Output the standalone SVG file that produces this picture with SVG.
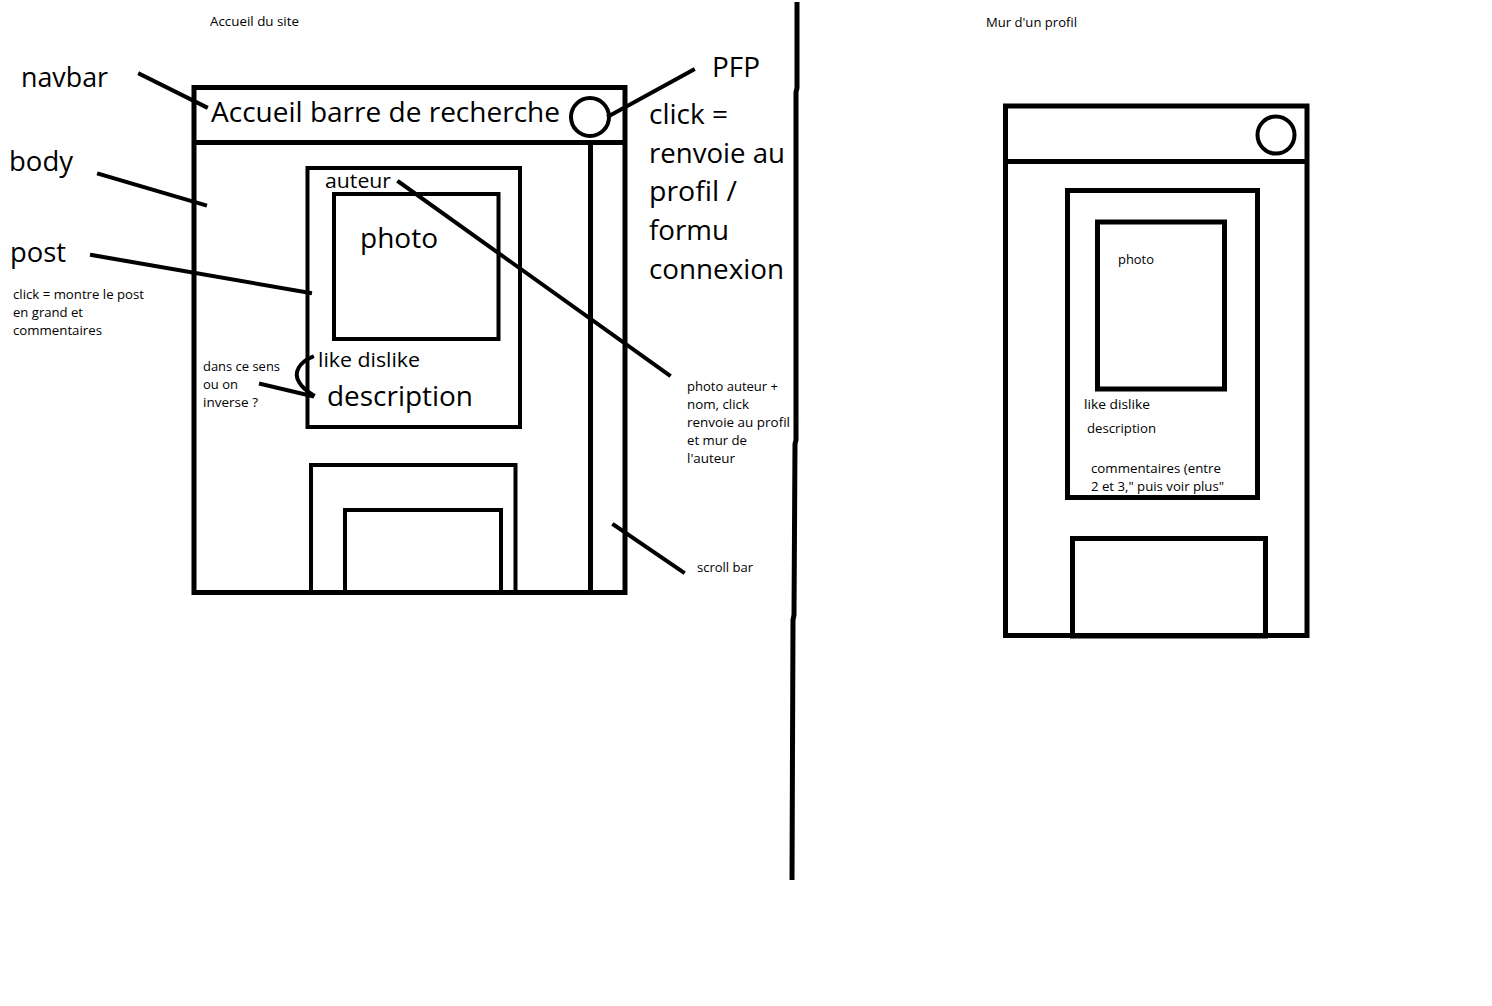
<svg xmlns="http://www.w3.org/2000/svg" width="1492" height="1006" viewBox="0 0 1492 1006">
<style>
.s{fill:none;stroke:#000;stroke-width:5}
.t{stroke-width:4}
.c{fill:none;stroke:#000;stroke-width:4;stroke-linecap:square}
.big{font-family:"Open Sans","Liberation Sans",sans-serif;font-size:27px;fill:#000}
.mid{font-family:"Open Sans","Liberation Sans",sans-serif;font-size:20px;fill:#000}
.sm{font-family:"Open Sans","Liberation Sans",sans-serif;font-size:13px;fill:#000}
</style>
<rect width="1492" height="1006" fill="#fff"/>
<text class="sm" x="210" y="26" textLength="89" lengthAdjust="spacingAndGlyphs">Accueil du site</text>
<text class="sm" x="986" y="27" textLength="91" lengthAdjust="spacingAndGlyphs">Mur d'un profil</text>
<polyline class="s" points="797,2 797,88 796,92 796,440 795,444 794,615 793,620 792,880"/>
<g id="home-screen">
<rect class="s" x="194" y="87.5" width="431" height="505"/>
<line class="s" x1="194" y1="142.5" x2="625" y2="142.5"/>
</g>
<g id="navbar">
<text class="big" x="211" y="122" textLength="349" lengthAdjust="spacingAndGlyphs">Accueil barre de recherche</text>
</g>
<g id="pfp"><circle class="s t" cx="590" cy="117" r="19"/></g>
<g id="scrollbar"><line class="s" x1="590.5" y1="142.5" x2="590.5" y2="592"/></g>
<g id="post1">
<rect class="s t" x="307.5" y="168" width="212.5" height="259"/>
<rect class="s t" x="334" y="194" width="164.5" height="145"/>
<text class="mid" x="325" y="188" textLength="66" lengthAdjust="spacingAndGlyphs">auteur</text>
<text class="big" x="360" y="248" textLength="78" lengthAdjust="spacingAndGlyphs">photo</text>
<text class="mid" x="318" y="367" textLength="102" lengthAdjust="spacingAndGlyphs">like dislike</text>
<text class="big" x="327" y="406" textLength="146" lengthAdjust="spacingAndGlyphs">description</text>
</g>
<g id="post2">
<path class="s t" d="M311,592 V465 H515.5 V592"/>
<path class="s t" d="M345,592 V510 H501 V592"/>
</g>
<g id="labels">
<text class="big" x="21" y="87" textLength="87" lengthAdjust="spacingAndGlyphs">navbar</text>
<text class="big" x="9" y="171" textLength="64" lengthAdjust="spacingAndGlyphs">body</text>
<text class="big" x="10" y="262" textLength="56" lengthAdjust="spacingAndGlyphs">post</text>
<text class="sm" x="13" y="299" textLength="131" lengthAdjust="spacingAndGlyphs">click = montre le post</text>
<text class="sm" x="13" y="317" textLength="70" lengthAdjust="spacingAndGlyphs">en grand et</text>
<text class="sm" x="13" y="335" textLength="89" lengthAdjust="spacingAndGlyphs">commentaires</text>
<text class="sm" x="203" y="371" textLength="77" lengthAdjust="spacingAndGlyphs">dans ce sens</text>
<text class="sm" x="203" y="389" textLength="35" lengthAdjust="spacingAndGlyphs">ou on</text>
<text class="sm" x="203" y="407" textLength="55" lengthAdjust="spacingAndGlyphs">inverse ?</text>
<text class="big" x="712" y="77" textLength="48" lengthAdjust="spacingAndGlyphs">PFP</text>
<text class="big" x="649" y="124" textLength="79" lengthAdjust="spacingAndGlyphs">click =</text>
<text class="big" x="649" y="163" textLength="136" lengthAdjust="spacingAndGlyphs">renvoie au</text>
<text class="big" x="649" y="201" textLength="88" lengthAdjust="spacingAndGlyphs">profil /</text>
<text class="big" x="649" y="240" textLength="80" lengthAdjust="spacingAndGlyphs">formu</text>
<text class="big" x="649" y="279" textLength="135" lengthAdjust="spacingAndGlyphs">connexion</text>
<text class="sm" x="687" y="391" textLength="91" lengthAdjust="spacingAndGlyphs">photo auteur +</text>
<text class="sm" x="687" y="409" textLength="62" lengthAdjust="spacingAndGlyphs">nom, click</text>
<text class="sm" x="687" y="427" textLength="103" lengthAdjust="spacingAndGlyphs">renvoie au profil</text>
<text class="sm" x="687" y="445" textLength="60" lengthAdjust="spacingAndGlyphs">et mur de</text>
<text class="sm" x="687" y="463" textLength="48" lengthAdjust="spacingAndGlyphs">l'auteur</text>
<text class="sm" x="697" y="572" textLength="56" lengthAdjust="spacingAndGlyphs">scroll bar</text>
</g>
<g id="connectors">
<line class="c" x1="140" y1="74" x2="206" y2="107"/>
<line class="c" x1="99" y1="174" x2="205" y2="205"/>
<line class="c" x1="92" y1="255" x2="310" y2="293"/>
<line class="c" x1="693" y1="70" x2="609" y2="116"/>
<line class="c" x1="399" y1="182" x2="669" y2="375"/>
<line class="c" x1="614" y1="525" x2="683" y2="572"/>
<path class="c" d="M312,357 C300,362 293,372 299,382 C303,389 308,392 313,395"/>
<line class="c" x1="261" y1="384" x2="312" y2="396"/>
</g>
<g id="profile-screen">
<rect class="s" x="1005.5" y="106" width="301.5" height="529.5"/>
<line class="s" x1="1005.5" y1="161.5" x2="1307" y2="161.5"/>
<circle class="s t" cx="1276" cy="135" r="18.5"/>
</g>
<g id="profile-post">
<rect class="s" x="1067.5" y="190.5" width="190" height="307"/>
<rect class="s" x="1097.5" y="222" width="127" height="167"/>
<text class="sm" x="1118" y="264" textLength="36" lengthAdjust="spacingAndGlyphs">photo</text>
<text class="sm" x="1084" y="409" textLength="66" lengthAdjust="spacingAndGlyphs">like dislike</text>
<text class="sm" x="1087" y="433" textLength="69" lengthAdjust="spacingAndGlyphs">description</text>
<text class="sm" x="1091" y="473" textLength="130" lengthAdjust="spacingAndGlyphs">commentaires (entre</text>
<text class="sm" x="1091" y="491" textLength="133" lengthAdjust="spacingAndGlyphs">2 et 3," puis voir plus"</text>
</g>
<g id="profile-post2">
<rect class="s" x="1072.5" y="538.5" width="193" height="97"/>
<line x1="1070" y1="637" x2="1268" y2="637" stroke="#000" stroke-width="3"/>
</g>
</svg>
